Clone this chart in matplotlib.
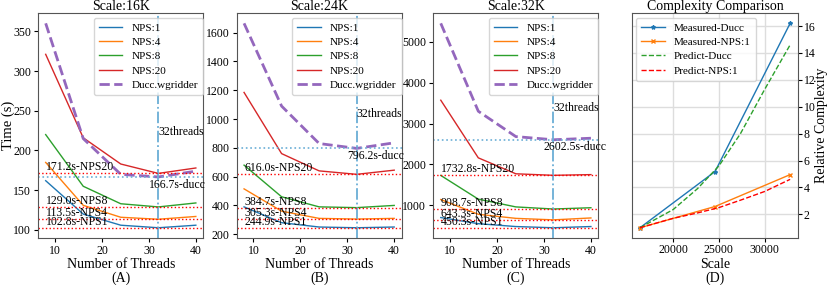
import matplotlib
matplotlib.use('Agg')
import matplotlib.pyplot as plt

plt.rcParams['font.family'] = ['Liberation Serif', 'DejaVu Serif']
plt.rcParams['mathtext.fontset'] = 'stix'

# data
threads = [8, 16, 24, 32, 40]
scales = ['16K', '24K', '32K']
panel_tags = ['(A)', '(B)', '(C)']

nps1 = [[162, 120, 106, 102.8, 106],
        [390, 280, 250, 244.9, 250],
        [700, 550, 480, 450.3, 480]]
nps4 = [[185, 131, 116, 113.5, 117],
        [515, 360, 310, 305.3, 310],
        [1140, 780, 680, 643.3, 690]]
nps8 = [[220, 155, 133, 129.0, 134],
        [680, 460, 390, 384.7, 400],
        [1730, 1150, 960, 908.7, 940]]
nps20 = [[321, 216, 183, 171.2, 178],
         [1185, 760, 640, 616.0, 645],
         [3570, 2160, 1770, 1732.8, 1750]]
ducc = [[360, 215, 170, 166.7, 174],
        [1665, 1090, 830, 796.2, 835],
        [5450, 3300, 2680, 2602.5, 2640]]

scale_pts = [16384, 24576, 32768]
measured_ducc = [1, 5.18, 16.2]
measured_nps1 = [1, 2.58, 4.95]
predict_x = [16384, 20000, 22650, 25000, 27350, 30000, 32768]
predict_ducc = [1, 2.35, 3.9, 5.6, 8.0, 11.3, 14.6]
predict_nps1 = [1, 1.7, 2.1, 2.5, 3.05, 3.7, 4.6]

# colors
BLUE = '#1f77b4'
ORANGE = '#ff7f0e'
GREEN = '#2ca02c'
RED = '#d62728'
PURPLE = '#9467bd'
VLINE = '#6aaed6'

fig = plt.figure(figsize=(8.3, 2.85), dpi=100)
bottom, top = 0.165, 0.954
lefts = [0.046, 0.285, 0.522, 0.762]
width = 0.199

for i in range(3):
    ax = fig.add_axes([lefts[i], bottom, width, top - bottom])
    ax.plot(threads, nps1[i], color=BLUE, lw=1, label='NPS:1')
    ax.plot(threads, nps4[i], color=ORANGE, lw=1, label='NPS:4')
    ax.plot(threads, nps8[i], color=GREEN, lw=1, label='NPS:8')
    ax.plot(threads, nps20[i], color=RED, lw=1, label='NPS:20')
    ax.plot(threads, ducc[i], color=PURPLE, lw=2, ls='--', label='Ducc.wgridder')

    ax.axvline(32, color=VLINE, ls='-.', lw=1.3)
    for series, name in [(nps20, 'NPS20'), (nps8, 'NPS8'), (nps4, 'NPS4'), (nps1, 'NPS1')]:
        best = min(series[i])
        ax.axhline(best, color='red', ls=':', lw=1)
        ax.text(8, best, '%.1fs-%s' % (best, name), fontsize=8.5, ha='left', va='bottom')
    dbest = min(ducc[i])
    ax.axhline(dbest, color=VLINE, ls=':', lw=1.2)
    ax.text(30, dbest * 0.985, '%.1fs-ducc' % dbest, fontsize=8.5, ha='left', va='top')
    ax.text(32, 0.62 * max(ducc[i]), '32threads', fontsize=8.5, ha='left', va='center')

    ax.set_title('Scale:' + scales[i], fontsize=10, pad=2)
    ax.set_xlabel('Number of Threads\n' + panel_tags[i], fontsize=10, labelpad=1, linespacing=1.05)
    if i == 0:
        ax.set_ylabel('Time (s)', fontsize=10.5)
        ax.yaxis.set_label_coords(-0.14, 0.5)
    ax.set_xticks([10, 20, 30, 40])
    ax.tick_params(labelsize=8.5, pad=2, length=3)
    ax.legend(loc='upper right', bbox_to_anchor=(1.0, 0.98), fontsize=8, handlelength=2.1,
              handletextpad=0.8, borderaxespad=0, labelspacing=0.4, borderpad=0.5)
    for s in ax.spines.values():
        s.set_color('#555555')

ax = fig.add_axes([lefts[3], bottom, width, top - bottom])
ax.plot(scale_pts, measured_ducc, color=BLUE, lw=1, marker='*', ms=3, label='Measured-Ducc')
ax.plot(scale_pts, measured_nps1, color=ORANGE, lw=1, marker='x', ms=3, label='Measured-NPS:1')
ax.plot(predict_x, predict_ducc, color=GREEN, lw=1, ls='--', label='Predict-Ducc')
ax.plot(predict_x, predict_nps1, color='red', lw=1, ls='--', label='Predict-NPS:1')
ax.grid(True, color='#dddddd', lw=1)
ax.set_axisbelow(True)
ax.yaxis.tick_right()
ax.yaxis.set_label_position('right')
ax.set_ylabel('Relative Complexity', fontsize=10)
ax.yaxis.set_label_coords(1.108, 0.5)
ax.set_title('Complexity Comparison', fontsize=10, pad=2)
ax.set_xlabel('Scale\n(D)', fontsize=10, labelpad=1, linespacing=1.05)
ax.set_xticks([20000, 25000, 30000])
ax.set_yticks([2, 4, 6, 8, 10, 12, 14, 16])
ax.tick_params(labelsize=8.5, pad=1.5, length=3)
ax.legend(loc='upper left', bbox_to_anchor=(0.02, 0.98), fontsize=8, handlelength=2.1,
          handletextpad=0.8, borderaxespad=0, labelspacing=0.4, borderpad=0.5)
for s in ax.spines.values():
    s.set_color('#555555')

fig.savefig('out.png', dpi=100)
